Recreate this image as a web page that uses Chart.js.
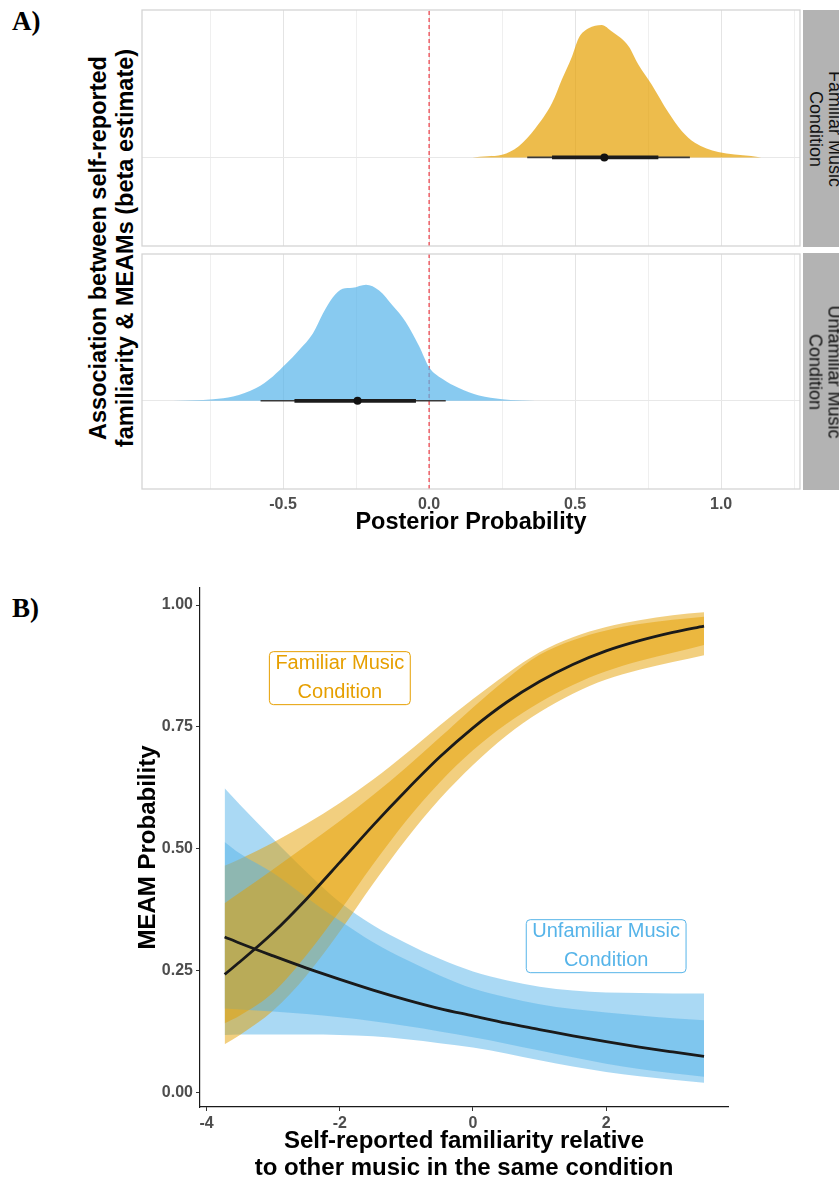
<!DOCTYPE html>
<html>
<head>
<meta charset="utf-8">
<script src="https://cdn.jsdelivr.net/npm/chart.js@4.4.0/dist/chart.umd.min.js"></script>
<style>
  html, body { margin: 0; padding: 0; background: #fff; }
  body { width: 839px; height: 1179px; position: relative; overflow: hidden; font-family: "Liberation Sans", Arial, sans-serif; }
  canvas { position: absolute; left: 0; }
  .tag { position: absolute; left: 12px; font-family: "Liberation Serif", "Times New Roman", serif; font-weight: bold; font-size: 27px; line-height: 1; color: #000; }
  .ytitle { position: absolute; width: 460px; height: 54px; left: -118px; top: 221px; transform: rotate(-90deg); text-align: center;
            font-weight: bold; font-size: 23.5px; line-height: 27px; color: #000; white-space: nowrap; }
  .strip { position: absolute; left: 803px; width: 45px; height: 237px; background: #b3b3b3; overflow: hidden; }
  .strip div { position: absolute; width: 237px; height: 40px; left: -98px; top: 98.5px; transform: rotate(90deg); text-align: center;
               font-size: 18px; line-height: 19px; color: #111; white-space: nowrap; }
</style>
</head>
<body>
<div class="tag" style="top:8px">A)</div>
<div class="tag" style="top:595px">B)</div>
<div class="ytitle">Association between self-reported<br>familiarity &amp; MEAMs (beta estimate)</div>
<canvas id="facetTop" width="839" height="250" style="top:0px"></canvas>
<canvas id="facetBottom" width="839" height="300" style="top:250px"></canvas>
<div class="strip" style="top:10px"><div>Familiar Music<br>Condition</div></div>
<div class="strip" style="top:253px"><div>Unfamiliar Music<br>Condition</div></div>
<canvas id="curves" width="839" height="609" style="top:570px"></canvas>

<script>
// ---------- A) posterior of beta estimate ----------
const famDensX = [0.148, 0.20, 0.25, 0.307, 0.364, 0.421, 0.455, 0.489, 0.512, 0.546, 0.591, 0.626, 0.683, 0.717, 0.762, 0.819, 0.865, 0.91, 0.99, 1.103, 1.137];
const famDensY = [0, 0.008, 0.02, 0.085, 0.22, 0.41, 0.59, 0.76, 0.90, 0.975, 1.0, 0.95, 0.84, 0.70, 0.55, 0.34, 0.20, 0.11, 0.04, 0.01, 0];
const unfDensX = [-0.876, -0.739, -0.671, -0.592, -0.535, -0.489, -0.444, -0.398, -0.364, -0.33, -0.296, -0.262, -0.216, -0.171, -0.125, -0.08, -0.034, 0.0, 0.045, 0.102, 0.171, 0.25, 0.364];
const unfDensY = [0, 0.012, 0.033, 0.097, 0.185, 0.282, 0.387, 0.51, 0.66, 0.783, 0.85, 0.857, 0.88, 0.836, 0.722, 0.598, 0.414, 0.255, 0.167, 0.097, 0.04, 0.012, 0];
const famThin = [0.336, 0.893];
const famThick = [0.421, 0.785];
const famPoint = 0.600;
const unfThin = [-0.577, 0.057];
const unfThick = [-0.461, -0.045];
const unfPoint = -0.245;
const refLineX = 0;
const tickValsA = [-0.75, -0.5, -0.25, 0, 0.25, 0.5, 0.75, 1, 1.25];
const majorTicksA = [-0.5, 0, 0.5, 1];
const xMinA = -0.983, xMaxA = 1.27;
const yMinA = -0.669, yMaxA = 1.113;

// ---------- B) predicted MEAM probability ----------
const famX = [-3.73, -3.5, -3, -2.5, -2, -1.5, -1, -0.5, 0, 0.5, 1, 1.5, 2, 2.5, 3, 3.47];
const famMean    = [0.242, 0.268, 0.328, 0.397, 0.472, 0.548, 0.62, 0.688, 0.748, 0.80, 0.843, 0.878, 0.906, 0.927, 0.944, 0.957];
const famInnerHi = [0.388, 0.41, 0.458, 0.507, 0.557, 0.61, 0.667, 0.728, 0.79, 0.848, 0.898, 0.928, 0.948, 0.961, 0.97, 0.976];
const famInnerLo = [0.142, 0.158, 0.205, 0.282, 0.372, 0.468, 0.558, 0.636, 0.702, 0.756, 0.80, 0.836, 0.864, 0.885, 0.902, 0.918];
const famOuterHi = [0.465, 0.479, 0.513, 0.551, 0.594, 0.642, 0.696, 0.753, 0.807, 0.858, 0.903, 0.934, 0.955, 0.969, 0.979, 0.985];
const famOuterLo = [0.099, 0.118, 0.168, 0.24, 0.33, 0.428, 0.52, 0.602, 0.672, 0.732, 0.78, 0.818, 0.847, 0.867, 0.883, 0.897];
const unfX = famX;
const unfMean    = [0.319, 0.306, 0.28, 0.255, 0.232, 0.21, 0.19, 0.172, 0.157, 0.142, 0.129, 0.116, 0.104, 0.093, 0.083, 0.074];
const unfInnerHi = [0.514, 0.49, 0.45, 0.40, 0.352, 0.308, 0.272, 0.24, 0.213, 0.195, 0.181, 0.171, 0.164, 0.158, 0.152, 0.148];
const unfInnerLo = [0.172, 0.170, 0.166, 0.161, 0.154, 0.146, 0.136, 0.125, 0.113, 0.1, 0.086, 0.072, 0.059, 0.048, 0.039, 0.032];
const unfOuterHi = [0.624, 0.59, 0.52, 0.452, 0.39, 0.343, 0.306, 0.274, 0.248, 0.23, 0.217, 0.209, 0.205, 0.204, 0.203, 0.203];
const unfOuterLo = [0.118, 0.119, 0.119, 0.119, 0.118, 0.115, 0.109, 0.101, 0.092, 0.08, 0.066, 0.053, 0.042, 0.033, 0.026, 0.02];
const tickValsBx = [-4, -2, 0, 2];
const tickValsBy = [0, 0.25, 0.5, 0.75, 1];
const xMinB = -4.1, xMaxB = 3.83;
const yMinB = -0.03, yMaxB = 1.035;
const labelText = [['Familiar Music', 'Condition'], ['Unfamiliar Music', 'Condition']];
const labelX = [-2.0, 2.0];
const labelY = [0.85, 0.30];
const labelColor = ['#E69F00', '#56B4E9'];

const ORANGE_A = 'rgba(230,159,0,0.7)';
const BLUE_A = 'rgba(86,180,233,0.7)';
const ORANGE_B = 'rgba(230,159,0,0.5)';
const BLUE_B = 'rgba(86,180,233,0.5)';
const FONT = '"Liberation Sans", Arial, sans-serif';

function pts(xs, ys) {
  return xs.map((x, i) => ({ x: x, y: ys[i] }));
}

// panel border like ggplot
const panelBorder = {
  id: 'panelBorder',
  afterDraw(chart) {
    const { ctx, chartArea: a } = chart;
    ctx.save();
    ctx.strokeStyle = '#d4d4d4';
    ctx.lineWidth = 1.3;
    ctx.strokeRect(a.left, a.top, a.right - a.left, a.bottom - a.top);
    ctx.restore();
  }
};

function makeFacet(id, densX, densY, color, thin, thick, point, showAxis) {
  const ctx = document.getElementById(id);
  return new Chart(ctx.getContext('2d'), {
    type: 'line',
    data: {
      datasets: [
        { data: pts([refLineX, refLineX], [yMinA, yMaxA]), borderColor: '#ee2b35', borderWidth: 1.1, borderDash: [4, 3], pointRadius: 0, order: 6 },
        { data: pts(densX, densY), fill: 'origin', backgroundColor: color, borderWidth: 0, pointRadius: 0, cubicInterpolationMode: 'monotone', order: 5 },
        { data: pts(thin, [0, 0]), borderColor: '#3a3a3a', borderWidth: 1.6, pointRadius: 0, order: 3 },
        { data: pts(thick, [0, 0]), borderColor: '#1c1c1c', borderWidth: 3.8, pointRadius: 0, order: 2 },
        { data: pts([point], [0]), showLine: false, pointRadius: 4, pointBackgroundColor: '#111', pointBorderWidth: 0, order: 1 }
      ]
    },
    options: {
      responsive: false,
      animation: false,
      layout: { padding: { left: 142, right: 39, top: showAxis ? 3 : 10, bottom: showAxis ? 0 : 3 } },
      plugins: { legend: { display: false }, tooltip: { enabled: false } },
      scales: {
        x: {
          type: 'linear', min: xMinA, max: xMaxA,
          afterBuildTicks: (axis) => { axis.ticks = tickValsA.map(v => ({ value: v })); },
          afterFit: (axis) => { axis.height = showAxis ? 61 : 0; },
          border: { display: false },
          grid: { drawTicks: false, lineWidth: 1, color: (c) => majorTicksA.includes(c.tick.value) ? '#e4e4e4' : '#efefef' },
          ticks: {
            display: showAxis, autoSkip: false, maxRotation: 0, padding: 6,
            color: '#4d4d4d', font: { family: FONT, size: 16, weight: 'bold' },
            callback: (v) => majorTicksA.includes(v) ? v.toFixed(1) : ''
          },
          title: {
            display: showAxis, text: 'Posterior Probability', color: '#000',
            font: { family: FONT, size: 23.5, weight: 'bold' }, padding: { top: 0, bottom: 13 }
          }
        },
        y: {
          type: 'linear', min: yMinA, max: yMaxA,
          afterBuildTicks: (axis) => { axis.ticks = [{ value: 0 }]; },
          afterFit: (axis) => { axis.width = 0; },
          border: { display: false },
          grid: { drawTicks: false, color: '#e8e8e8', lineWidth: 1 },
          ticks: { display: false }
        }
      }
    },
    plugins: [panelBorder]
  });
}

makeFacet('facetTop', famDensX, famDensY, ORANGE_A, famThin, famThick, famPoint, false);
makeFacet('facetBottom', unfDensX, unfDensY, BLUE_A, unfThin, unfThick, unfPoint, true);

// boxed condition labels (geom_label)
const condLabels = {
  id: 'condLabels',
  afterDatasetsDraw(chart) {
    const { ctx, scales: { x, y } } = chart;
    ctx.save();
    ctx.font = '20px ' + FONT;
    labelText.forEach((lines, i) => {
      const cx = x.getPixelForValue(labelX[i]);
      const cy = y.getPixelForValue(labelY[i]);
      const w = Math.max(...lines.map(t => ctx.measureText(t).width)) + 12;
      const h = 53;
      ctx.beginPath();
      ctx.roundRect(cx - w / 2, cy - h / 2, w, h, 4);
      ctx.fillStyle = '#fff';
      ctx.fill();
      ctx.strokeStyle = labelColor[i];
      ctx.lineWidth = 1;
      ctx.stroke();
      ctx.fillStyle = labelColor[i];
      ctx.textAlign = 'center';
      ctx.textBaseline = 'middle';
      lines.forEach((t, k) => ctx.fillText(t, cx, cy + (k - 0.5) * 29));
    });
    ctx.restore();
  }
};

function ribbon(xs, hi, lo, color, order) {
  return [
    { data: pts(xs, hi), fill: '+1', backgroundColor: color, borderWidth: 0, pointRadius: 0, cubicInterpolationMode: 'monotone', order: order },
    { data: pts(xs, lo), fill: false, borderWidth: 0, pointRadius: 0, cubicInterpolationMode: 'monotone', order: order }
  ];
}

new Chart(document.getElementById('curves').getContext('2d'), {
  type: 'line',
  data: {
    datasets: [
      ...ribbon(unfX, unfOuterHi, unfOuterLo, BLUE_B, 9),
      ...ribbon(famX, famOuterHi, famOuterLo, ORANGE_B, 8),
      ...ribbon(unfX, unfInnerHi, unfInnerLo, BLUE_B, 7),
      ...ribbon(famX, famInnerHi, famInnerLo, ORANGE_B, 6),
      { data: pts(unfX, unfMean), borderColor: '#1a1a1a', borderWidth: 2.8, pointRadius: 0, cubicInterpolationMode: 'monotone', fill: false, order: 2 },
      { data: pts(famX, famMean), borderColor: '#1a1a1a', borderWidth: 2.8, pointRadius: 0, cubicInterpolationMode: 'monotone', fill: false, order: 1 }
    ]
  },
  options: {
    responsive: false,
    animation: false,
    layout: { padding: { left: 0, right: 111, top: 18, bottom: 0 } },
    plugins: { legend: { display: false }, tooltip: { enabled: false } },
    scales: {
      x: {
        type: 'linear', min: xMinB, max: xMaxB,
        afterBuildTicks: (axis) => { axis.ticks = tickValsBx.map(v => ({ value: v })); },
        afterFit: (axis) => { axis.height = 72; },
        border: { display: true, color: '#1a1a1a', width: 1.2 },
        grid: { display: true, drawOnChartArea: false, drawTicks: true, tickLength: 4, tickColor: '#333', tickWidth: 1 },
        ticks: { autoSkip: false, maxRotation: 0, padding: 3, color: '#4d4d4d', font: { family: FONT, size: 16, weight: 'bold' },
                 callback: (v) => String(v) },
        title: {
          display: true, text: ['Self-reported familiarity relative', 'to other music in the same condition'], color: '#000',
          font: { family: FONT, size: 24, weight: 'bold', lineHeight: 1.125 }, padding: { top: 0, bottom: -3 }
        }
      },
      y: {
        type: 'linear', min: yMinB, max: yMaxB,
        afterBuildTicks: (axis) => { axis.ticks = tickValsBy.map(v => ({ value: v })); },
        afterFit: (axis) => { axis.width = 200; },
        border: { display: true, color: '#1a1a1a', width: 1.2 },
        grid: { display: true, drawOnChartArea: false, drawTicks: true, tickLength: 4, tickColor: '#333', tickWidth: 1 },
        ticks: { padding: 3, color: '#4d4d4d', font: { family: FONT, size: 16, weight: 'bold' },
                 callback: (v) => v.toFixed(2) },
        title: {
          display: true, text: 'MEAM Probability', color: '#000',
          font: { family: FONT, size: 24, weight: 'bold' }, padding: { top: 133.6, bottom: 0 }
        }
      }
    }
  },
  plugins: [condLabels]
});
</script>
</body>
</html>
